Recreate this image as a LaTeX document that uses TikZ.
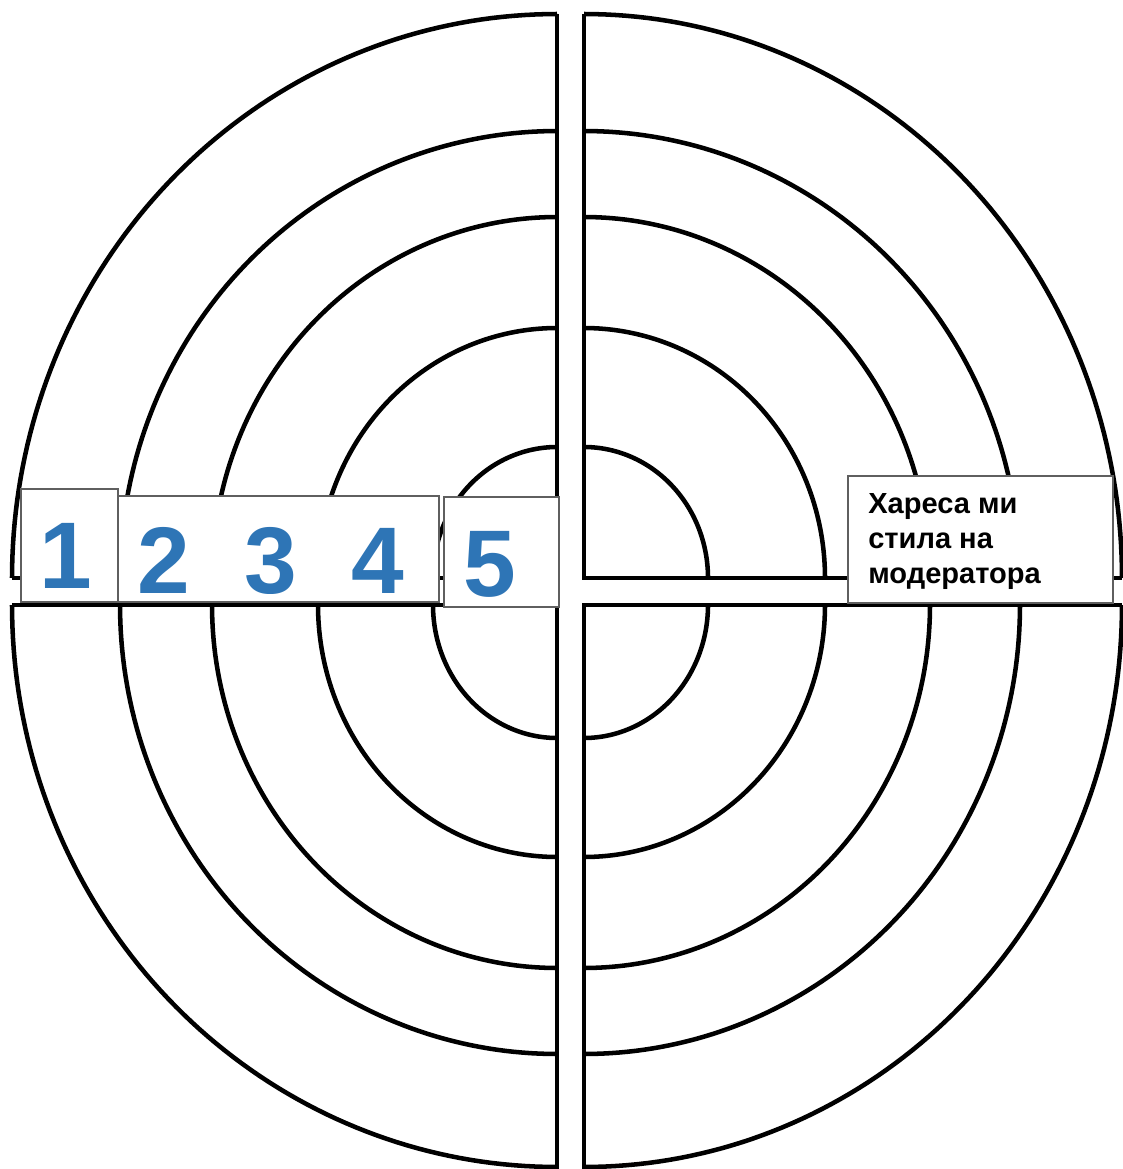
\documentclass[tikz,border=0pt]{standalone}
\usepackage{fontspec}
\setmainfont{Liberation Sans}
\definecolor{numblue}{RGB}{46,117,182}
\definecolor{boxgray}{RGB}{95,95,95}
\begin{document}
\begin{tikzpicture}[x=0.75pt,y=-0.75pt,
  ring/.style={line width=3.4pt},
  frame/.style={line width=3.7pt, line join=miter},
  labelbox/.style={draw=boxgray, line width=0.8pt, fill=white},
  digit/.style={text=numblue, font=\fontsize{71}{71}\selectfont\bfseries, inner sep=0pt, anchor=base},
  caption/.style={font=\fontsize{21.8}{26}\selectfont\bfseries, inner sep=0pt, anchor=base west}]
\useasboundingbox[fill=white] (0,0) rectangle (1122,1169);

% top-left quadrant
\draw[frame] (557,14) -- (557,578) -- (12,578);
\foreach \a/\b in {124/131, 239/250, 345/361, 437/447, 545/564}
  \draw[ring] plot[domain=0:90, samples=80] ({557-\a*cos(\x)},{578-\b*sin(\x)});

% top-right quadrant
\draw[frame] (584,14) -- (584,578) -- (1122,578);
\foreach \a/\b in {124/131, 241/250, 346/361, 436/447, 538/564}
  \draw[ring] plot[domain=0:90, samples=80] ({584+\a*cos(\x)},{578-\b*sin(\x)});

% bottom-left quadrant
\draw[frame] (557,1169) -- (557,605) -- (12,605);
\foreach \a/\b in {124/133, 239/252, 345/363, 437/449, 545/562}
  \draw[ring] plot[domain=0:90, samples=80] ({557-\a*cos(\x)},{605+\b*sin(\x)});

% bottom-right quadrant
\draw[frame] (584,1169) -- (584,605) -- (1122,605);
\foreach \a/\b in {124/133, 241/252, 346/363, 436/449, 538/562}
  \draw[ring] plot[domain=0:90, samples=80] ({584+\a*cos(\x)},{605+\b*sin(\x)});

% label boxes
\draw[labelbox] (21,489) rectangle (118,602);
\draw[labelbox] (118,496) rectangle (439,602);
\draw[labelbox] (444,497) rectangle (559,607);
\draw[labelbox] (848,476) rectangle (1113,603);

% digits
\node[digit] (n1) at (66,588) {1};
\begin{scope}
  \clip (119,497) rectangle (438,593.5);
  \node[digit] (n2) at (164,593) {2};
  \node[digit] (n3) at (271,593) {3};
  \node[digit] (n4) at (378,593) {4};
\end{scope}
\node[digit] (n5) at (490,596) {5};

% caption
\node[caption] (c1) at (868,513) {Хареса ми};
\node[caption] (c2) at (868,548) {стила на};
\node[caption] (c3) at (868,583) {модератора};
\end{tikzpicture}
\end{document}
